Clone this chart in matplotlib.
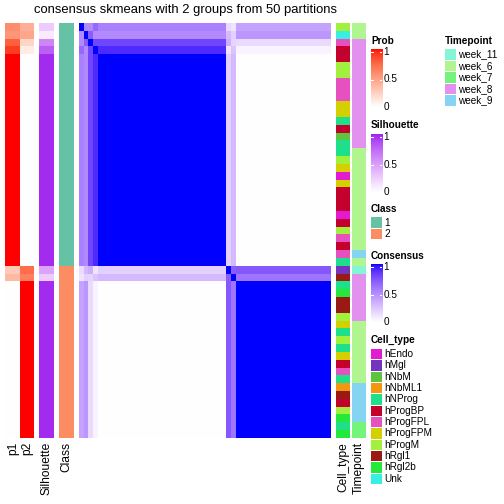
import numpy as np
import matplotlib
matplotlib.use("Agg")
import matplotlib.pyplot as plt
from matplotlib.colors import ListedColormap, to_rgb
from matplotlib.patches import Rectangle

plt.rcParams['font.family'] = ['Liberation Sans', 'DejaVu Sans']

# ---------------- data ----------------
title = "consensus skmeans with 2 groups from 50 partitions"

p1 = [0.58, 0.54, 0.78, 0.90,
      1, 1, 1, 1, 1, 1, 1, 1, 1, 1, 1, 1, 1, 1, 1, 1, 1, 1, 1, 1, 1, 1, 1, 1, 1, 1, 1,
      0.28, 0.36,
      0, 0, 0, 0, 0, 0, 0, 0, 0, 0, 0, 0, 0, 0, 0, 0, 0, 0, 0, 0]
p2 = [0.42, 0.46, 0.22, 0.10,
      0, 0, 0, 0, 0, 0, 0, 0, 0, 0, 0, 0, 0, 0, 0, 0, 0, 0, 0, 0, 0, 0, 0, 0, 0, 0, 0,
      0.72, 0.64,
      1, 1, 1, 1, 1, 1, 1, 1, 1, 1, 1, 1, 1, 1, 1, 1, 1, 1, 1, 1]
silhouette = [0.25, 0.10, 0.60, 0.78,
              0.97, 0.97, 0.97, 0.97, 0.97, 0.97, 0.97, 0.97, 0.97, 0.97, 0.97, 0.97, 0.97, 0.97,
              0.97, 0.97, 0.97, 0.97, 0.97, 0.97, 0.97, 0.97, 0.97, 0.97, 0.97, 0.97, 0.97,
              0.45, 0.25,
              0.97, 0.97, 0.97, 0.97, 0.97, 0.97, 0.97, 0.97, 0.97, 0.97, 0.97, 0.97, 0.97, 0.97,
              0.97, 0.97, 0.97, 0.97, 0.97, 0.97]
classes = [1, 1, 1, 1, 1, 1, 1, 1, 1, 1, 1, 1, 1, 1, 1, 1, 1, 1, 1, 1, 1, 1, 1, 1, 1, 1, 1, 1, 1, 1, 1,
           2, 2, 2, 2, 2, 2, 2, 2, 2, 2, 2, 2, 2, 2, 2, 2, 2, 2, 2, 2, 2, 2]

cell_type = ["hProgM", "Unk", "hProgFPL", "hProgBP", "hProgBP", "hProgM", "hProgM",
             "hProgFPL", "hProgFPL", "hProgFPL", "hProgFPM", "hProgFPM", "hNProg", "hProgBP",
             "hNbM", "hNProg", "hNProg", "hProgM", "hProgFPM", "hEndo", "hProgFPM",
             "hProgBP", "hProgBP", "hProgBP", "hEndo", "hProgBP", "hProgM", "hProgFPL",
             "hProgBP", "hProgFPL", "hNProg", "hMgl", "hRgl1", "hNProg", "hRgl2b", "hRgl1",
             "hRgl1", "hProgM", "hProgFPM", "hNProg", "hProgM", "hNProg", "hProgFPM",
             "hProgBP", "hProgFPL", "hNProg", "hNbML1", "hRgl1", "hProgBP", "hProgM",
             "hRgl2b", "hNProg", "hRgl2b"]
timepoint = ["week_6", "week_6",
             "week_8", "week_8", "week_8", "week_8", "week_8", "week_8", "week_8",
             "week_8", "week_8", "week_8", "week_8", "week_8", "week_8", "week_8",
             "week_6", "week_6", "week_6", "week_6", "week_6", "week_6", "week_6",
             "week_6", "week_6", "week_6", "week_6", "week_6", "week_6",
             "week_9", "week_6", "week_11",
             "week_8", "week_8", "week_8", "week_8", "week_8", "week_8",
             "week_6", "week_6", "week_6", "week_6", "week_6", "week_6", "week_6", "week_6",
             "week_9", "week_9", "week_9", "week_9", "week_9",
             "week_7", "week_7"]

# consensus: ambiguous samples and their values
amb_idx = [0, 1, 2, 3, 31, 32]
amb_vs_class1 = [0.55, 0.50, 0.80, 0.90, 0.20, 0.30]
amb_vs_class2 = [0.40, 0.45, 0.15, 0.05, 0.72, 0.60]
amb_pair = [[1.00, 0.50, 0.50, 0.65, 0.15, 0.12],
            [0.50, 1.00, 0.70, 0.50, 0.30, 0.20],
            [0.50, 0.70, 1.00, 0.80, 0.35, 0.18],
            [0.65, 0.50, 0.80, 1.00, 0.12, 0.25],
            [0.15, 0.30, 0.35, 0.12, 1.00, 0.70],
            [0.12, 0.20, 0.18, 0.25, 0.70, 1.00]]

class_levels = ["1", "2"]
class_colors = ["#66C2A5", "#FC8D62"]
cell_levels = ["hEndo", "hMgl", "hNbM", "hNbML1", "hNProg", "hProgBP", "hProgFPL",
               "hProgFPM", "hProgM", "hRgl1", "hRgl2b", "Unk"]
cell_colors = ["#E21AD2", "#7334BE", "#5DC43F", "#F39610", "#1EE08A", "#C4002C",
               "#E650BF", "#D4D000", "#A2F03E", "#991A14", "#24E83A", "#38F0E0"]
time_levels = ["week_11", "week_6", "week_7", "week_8", "week_9"]
time_colors = ["#84F5D5", "#B0F590", "#74F47A", "#E292EE", "#84D4F2"]

# ---------------- build consensus table ----------------
n = len(classes)
cls = np.array(classes)
cons = (cls[:, None] == cls[None, :]).astype(float)
for a, i in enumerate(amb_idx):
    for j in range(n):
        v = amb_vs_class1[a] if cls[j] == 1 else amb_vs_class2[a]
        cons[i, j] = v
        cons[j, i] = v
for a, i in enumerate(amb_idx):
    for b, j in enumerate(amb_idx):
        cons[i, j] = amb_pair[a][b]

# ---------------- LAB colour ramps ----------------
def _lin(c):
    c = np.asarray(c, float)
    return np.where(c <= 0.04045, c / 12.92, ((c + 0.055) / 1.055) ** 2.4)

def _gam(c):
    c = np.clip(c, 0, 1)
    return np.where(c <= 0.0031308, 12.92 * c, 1.055 * c ** (1 / 2.4) - 0.055)

M = np.array([[0.4124, 0.3576, 0.1805], [0.2126, 0.7152, 0.0722], [0.0193, 0.1192, 0.9505]])
Minv = np.linalg.inv(M)
WP = np.array([0.95047, 1.0, 1.08883])

def rgb2lab(rgb):
    xyz = M @ _lin(rgb) / WP
    f = np.where(xyz > (6 / 29) ** 3, np.cbrt(xyz), xyz / (3 * (6 / 29) ** 2) + 4 / 29)
    return np.array([116 * f[1] - 16, 500 * (f[0] - f[1]), 200 * (f[1] - f[2])])

def lab2rgb(lab):
    L, a, b = lab
    fy = (L + 16) / 116
    f = np.array([fy + a / 500, fy, fy - b / 200])
    xyz = np.where(f > 6 / 29, f ** 3, 3 * (6 / 29) ** 2 * (f - 4 / 29)) * WP
    return _gam(Minv @ xyz)

def lab_cmap(c1, c2, N=256):
    l1, l2 = rgb2lab(to_rgb(c1)), rgb2lab(to_rgb(c2))
    cols = [lab2rgb(l1 + (l2 - l1) * t) for t in np.linspace(0, 1, N)]
    return ListedColormap(cols)

red_cm = lab_cmap("#FFFFFF", "#FF0000")
pur_cm = lab_cmap("#FFFFFF", "#A020F0")
blu_cm = lab_cmap("#FFFFFF", "#0000FF")

# ---------------- layout helpers ----------------
W = H = 504
fig = plt.figure(figsize=(7, 7), dpi=72)

def px_axes(x0, y0, x1, y1):
    ax = fig.add_axes([x0 / W, 1 - y1 / H, (x1 - x0) / W, (y1 - y0) / H])
    ax.set_axis_off()
    return ax

TOP, BOT = 23, 438

def col_cont(x0, x1, vals, cm):
    ax = px_axes(x0, TOP, x1, BOT)
    ax.imshow(np.array(vals, float)[:, None], cmap=cm, vmin=0, vmax=1,
              aspect='auto', interpolation='nearest')

def col_cat(x0, x1, vals, levels, colors):
    ax = px_axes(x0, TOP, x1, BOT)
    lut = dict(zip(levels, colors))
    img = np.array([to_rgb(lut[str(v)]) for v in vals])[:, None, :]
    ax.imshow(img, aspect='auto', interpolation='nearest')

col_cont(5, 20, p1, red_cm)
col_cont(20, 34, p2, red_cm)
col_cont(39, 54, silhouette, pur_cm)
col_cat(59, 74, classes, class_levels, class_colors)

axh = px_axes(79, TOP, 331, BOT)
axh.imshow(cons, cmap=blu_cm, vmin=0, vmax=1, aspect='auto', interpolation='nearest')

col_cat(336, 350, cell_type, cell_levels, cell_colors)
col_cat(352, 366, timepoint, time_levels, time_colors)

def ftext(x, y, s, **kw):
    fig.text(x / W, 1 - y / H, s, **kw)

ftext(185, 10, title, ha='center', va='center', fontsize=13)

for xc, lab in [(13, "p1"), (27.5, "p2"), (46.5, "Silhouette"), (66.5, "Class"),
                (343, "Cell_type"), (359, "Timepoint")]:
    ftext(xc, 442, lab, rotation=90, ha='center', va='top', fontsize=12)

# ---------------- legends ----------------
def cbar(y_title, y_top, y_bot, cm, name, x=371):
    ftext(x, y_title, name, ha='left', va='center', fontsize=10, fontweight='bold')
    ax = px_axes(x, y_top - 3, x + 11, y_bot)
    ax.imshow(np.linspace(1, 0, 256)[:, None], cmap=cm, vmin=0, vmax=1,
              aspect='auto', extent=[0, 1, 0, 1])
    ax.set_xlim(0, 1)
    ax.set_ylim(0, 1)
    for v, lab in [(1, "1"), (0.5, "0.5"), (0, "0")]:
        yy = y_bot - v * (y_bot - y_top)
        yf = (y_bot - yy) / (y_bot - y_top + 3)
        ax.plot([0, 0.22], [yf, yf], color='white', lw=1)
        ax.plot([0.78, 1], [yf, yf], color='white', lw=1)
        ftext(x + 12.5, yy, lab, ha='left', va='center', fontsize=10)

cbar(41, 52, 107, red_cm, "Prob")
cbar(125, 137, 192, pur_cm, "Silhouette")
cbar(256, 267, 322, blu_cm, "Consensus")

ov = fig.add_axes([0, 0, 1, 1])
ov.set_xlim(0, W)
ov.set_ylim(H, 0)
ov.set_axis_off()
ov.patch.set_alpha(0)

def cat_legend(x, y_title, y_first, step, levels, colors, name):
    ftext(x, y_title, name, ha='left', va='center', fontsize=10, fontweight='bold')
    for k, (lv, c) in enumerate(zip(levels, colors)):
        yc = y_first + k * step
        ov.add_patch(Rectangle((x, yc - step / 2 + 0.5), 11, step - 1,
                               facecolor=c, edgecolor='none'))
        ftext(x + 13.5, yc, lv, ha='left', va='center', fontsize=10)

cat_legend(371, 209, 222.5, 11.5, class_levels, class_colors, "Class")
cat_legend(371, 340, 354, 11.35, cell_levels, cell_colors, "Cell_type")
cat_legend(445, 41, 54.5, 11.5, time_levels, time_colors, "Timepoint")

fig.savefig("out.png", dpi=72)
